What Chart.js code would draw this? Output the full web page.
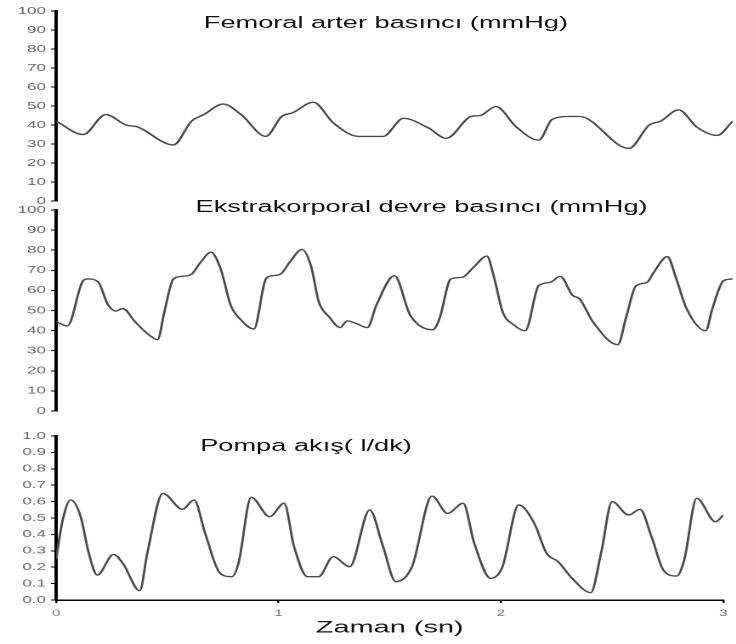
<!DOCTYPE html>
<html>
<head>
<meta charset="utf-8">
<script src="https://cdn.jsdelivr.net/npm/chart.js@4.4.1/dist/chart.umd.min.js"></script>
<style>
  html, body { margin:0; padding:0; background:#fff; }
  #wrap { position:absolute; left:0; top:0; width:433px; height:644px; transform:scaleX(1.7); transform-origin:0 0; }
  .box { position:absolute; left:0; width:433px; }
  .ttl { position:absolute; font-family:"Liberation Sans", Arial, sans-serif; font-size:16px; color:#111; white-space:nowrap; transform:translate(-50%,-50%); }
</style>
</head>
<body>
<div id="wrap">
  <div class="box" style="top:0;height:210px"><canvas id="c1"></canvas></div>
  <div class="box" style="top:200px;height:220px"><canvas id="c2"></canvas></div>
  <div class="box" style="top:425px;height:219px"><canvas id="c3"></canvas></div>
  <div class="ttl" style="left:227px;top:23px">Femoral arter basıncı (mmHg)</div>
  <div class="ttl" style="left:248px;top:207px">Ekstrakorporal devre basıncı (mmHg)</div>
  <div class="ttl" style="left:180px;top:446px">Pompa akış( l/dk)</div>
</div>
<script>
// ---- data ----
const femoralTime = [0, 0.12, 0.22, 0.31, 0.36, 0.52, 0.60, 0.655, 0.74, 0.82, 0.93, 1.0, 1.05, 1.14, 1.23, 1.34, 1.45, 1.54, 1.65, 1.73, 1.84, 1.88, 1.95, 2.04, 2.14, 2.20, 2.28, 2.32, 2.54, 2.63, 2.68, 2.76, 2.84, 2.93, 3.0];
const femoralPressure = [42, 35, 45.5, 40, 39, 29.5, 42, 45.5, 51, 45.5, 34, 44.5, 46.5, 52, 41, 34, 34, 43.5, 38.5, 33, 44.5, 45, 49.7, 39, 32, 43, 44.5, 44.5, 27.7, 40, 42, 48, 39, 34.5, 42];

const circuitTime = [0, 0.05, 0.12, 0.14, 0.185, 0.23, 0.265, 0.295, 0.35, 0.405, 0.45, 0.48, 0.52, 0.56, 0.6, 0.64, 0.686, 0.73, 0.774, 0.82, 0.877, 0.93, 0.96, 0.995, 1.04, 1.09, 1.13, 1.165, 1.21, 1.26, 1.29, 1.33, 1.38, 1.42, 1.50, 1.57, 1.67, 1.70, 1.75, 1.80, 1.85, 1.91, 1.94, 1.98, 2.03, 2.08, 2.14, 2.19, 2.235, 2.29, 2.32, 2.38, 2.49, 2.53, 2.57, 2.62, 2.65, 2.71, 2.75, 2.795, 2.88, 2.91, 2.96, 3.0];
const circuitPressure = [44.5, 42.3, 64.9, 65.7, 64.4, 52.9, 49.7, 51, 44.4, 38.5, 35.5, 49.3, 65.7, 67, 68, 73.9, 79, 70.6, 52.6, 45.3, 40.8, 65.7, 67.3, 68.1, 74.7, 80.4, 72.2, 54.2, 46.9, 41.5, 44.8, 43.6, 41.5, 52.6, 67.3, 47.7, 40.4, 46, 65.7, 66.5, 71.4, 77.1, 67.3, 49.3, 42.8, 39.9, 62.4, 64, 67, 57.5, 55.9, 44.4, 33, 47.7, 62.1, 64, 69, 76.8, 65.7, 51, 39.9, 51, 64.9, 65.7];

const pumpTime = [0, 0.03, 0.066, 0.11, 0.147, 0.185, 0.258, 0.30, 0.376, 0.41, 0.48, 0.568, 0.62, 0.67, 0.737, 0.79, 0.82, 0.877, 0.96, 1.025, 1.07, 1.13, 1.18, 1.246, 1.32, 1.41, 1.47, 1.527, 1.60, 1.69, 1.76, 1.83, 1.88, 1.954, 2.006, 2.08, 2.15, 2.205, 2.257, 2.32, 2.404, 2.45, 2.5, 2.574, 2.625, 2.677, 2.73, 2.79, 2.824, 2.88, 2.965, 3.0];
const pumpFlow = [0.25, 0.49, 0.61, 0.51, 0.285, 0.152, 0.278, 0.224, 0.057, 0.285, 0.65, 0.553, 0.61, 0.407, 0.163, 0.142, 0.224, 0.626, 0.508, 0.59, 0.325, 0.142, 0.142, 0.264, 0.203, 0.549, 0.325, 0.112, 0.203, 0.634, 0.528, 0.59, 0.346, 0.132, 0.2, 0.58, 0.467, 0.285, 0.234, 0.132, 0.045, 0.285, 0.6, 0.518, 0.553, 0.386, 0.183, 0.146, 0.244, 0.62, 0.477, 0.518];

const xTickLabels = ['0', '1', '2', '3'];
const xAxisTitle = 'Zaman (sn)';

// ---- chart builder ----
const FONT = '"Liberation Sans", Arial, sans-serif';

function makeChart(id, xs, ys, yMax, yStep, yDecimals, padding, showX) {
  const pts = xs.map((t, i) => ({ x: t, y: ys[i] }));
  return new Chart(document.getElementById(id), {
    type: 'line',
    data: { datasets: [{
      data: pts,
      borderColor: '#4a4a4a',
      borderWidth: 1.4,
      pointRadius: 0,
      cubicInterpolationMode: 'monotone',
      fill: false
    }]},
    options: {
      responsive: true,
      maintainAspectRatio: false,
      animation: false,
      devicePixelRatio: 2,
      layout: { padding: padding },
      plugins: { legend: { display: false }, tooltip: { enabled: false }, title: { display: false } },
      scales: {
        x: {
          type: 'linear', min: 0, max: 3,
          display: showX,
          afterFit: (s) => { if (showX) s.height = 44; },
          border: { display: true, color: '#000', width: 1.5 },
          grid: { display: true, drawOnChartArea: false, drawTicks: true, tickLength: 3, color: '#000', lineWidth: 1.2 },
          ticks: {
            stepSize: 1, padding: 5, color: '#777', maxRotation: 0,
            font: { family: FONT, size: 9 },
            callback: (v) => xTickLabels[Math.round(v)] ?? ''
          },
          title: { display: true, text: xAxisTitle, color: '#111', font: { family: FONT, size: 17 }, padding: { top: 0, bottom: 6 } }
        },
        y: {
          min: 0, max: yMax,
          afterFit: (s) => { s.width = 33; },
          border: { display: true, color: '#000', width: 2 },
          grid: { display: true, drawOnChartArea: false, drawTicks: true, tickLength: 3, color: '#000', lineWidth: 1 },
          ticks: {
            stepSize: yStep, padding: 3, color: '#666', autoSkip: false,
            font: { family: FONT, size: 10 },
            callback: (v) => Number(v).toFixed(yDecimals)
          }
        }
      }
    }
  });
}

makeChart('c1', femoralTime, femoralPressure, 100, 10, 0, { top: 11, bottom: 8, left: 0, right: 2 }, false);
makeChart('c2', circuitTime, circuitPressure, 100, 10, 0, { top: 10, bottom: 6, left: 0, right: 2 }, false);
makeChart('c3', pumpTime, pumpFlow, 1.0, 0.1, 1, { top: 11, bottom: 0, left: 0, right: 2 }, true);
</script>
</body>
</html>
